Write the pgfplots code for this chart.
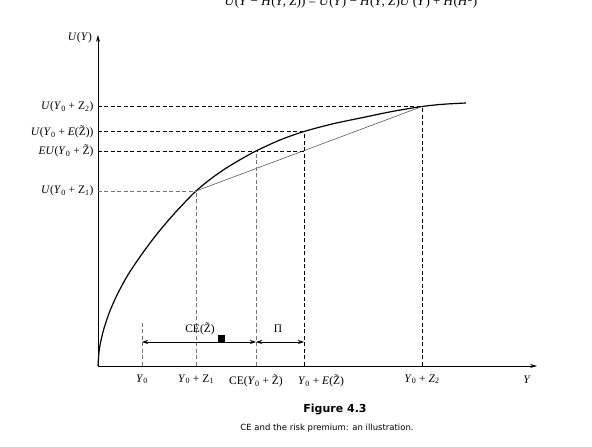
\documentclass[border=0pt]{standalone}
\usepackage{fontspec}
\setmainfont{Liberation Serif}
\newfontfamily\capfont{DejaVu Sans}
\usepackage{pgfplots}
\pgfplotsset{compat=1.18}
\usetikzlibrary{arrows.meta}
\newcommand{\Yo}{\textit{Y}\textsubscript{0}}
\newcommand{\Zt}{\~{Z}}
\newcommand{\lf}{\fontsize{11.5}{13}\selectfont}
\begin{document}
\begin{tikzpicture}[x=1pt,y=1pt]
\useasboundingbox (-98,-81) rectangle (494,366);
\begin{axis}[
  x=1pt, y=1pt,
  at={(0,0)}, anchor=south west,
  xmin=0, xmax=439, ymin=0, ymax=331,
  axis x line=bottom, axis y line=left,
  axis line style={line width=0.8pt, -{Stealth[length=7pt,width=4pt]}},
  xtick={44,98,158,324},
  xticklabels={{\Yo},{\Yo{} + Z\textsubscript{1}},{CE(\Yo{} + \Zt)},{\Yo{} + \textit{Z}\textsubscript{2}}},
  extra x ticks={206},
  extra x tick labels={{\Yo{} + \textit{E}(\Zt)}},
  extra x tick style={xticklabel style={xshift=17pt}},
  ytick={175,215,234.5,259.5},
  yticklabels={{\textit{U}(\Yo{} + Z\textsubscript{1})},{\textit{EU}(\Yo{} + \Zt)},{\textit{U}(\Yo{} + \textit{E}(\Zt))},{\textit{U}(\Yo{} + Z\textsubscript{2})}},
  major tick length=0pt,
  ticklabel style={font=\lf},
  xticklabel style={yshift=-5pt},
  yticklabel style={xshift=-1pt},
  clip=false,
]
% curve
\addplot[smooth, line width=1.2pt, black] coordinates {
 (0,0) (1,14) (2.5,23.3) (6,37.6) (12,55.2) (20,73) (30,91.2) (42,109.2) (56,128.2) (70,145.3) (84,160.7) (98,175)
 (113,187.3) (128,197.8) (143,206.8) (158,215) (182,226) (206,234.5) (235,242.2) (264,248.3) (294,254.5) (324,259.5) (346,261.8) (368,263)};
% chord
\addplot[line width=0.5pt, black!75] coordinates {(98,175) (324,259.5)};
% horizontal dashed
\addplot[black, line width=0.7pt, dash pattern=on 4pt off 2.5pt] coordinates {(0,259.5) (324,259.5)};
\addplot[black, line width=0.7pt, dash pattern=on 4pt off 2.5pt] coordinates {(0,234.5) (206,234.5)};
\addplot[black, line width=0.7pt, dash pattern=on 4pt off 2.5pt] coordinates {(0,215) (206,215)};
\addplot[black!55, line width=0.7pt, dash pattern=on 4pt off 2.5pt] coordinates {(0,175) (98,175)};
% vertical dashed
\addplot[black!55, line width=0.7pt, dash pattern=on 4pt off 2.5pt] coordinates {(44,0) (44,45)};
\addplot[black!55, line width=0.7pt, dash pattern=on 4pt off 2.5pt] coordinates {(98,0) (98,175)};
\addplot[black!55, line width=0.7pt, dash pattern=on 4pt off 2.5pt] coordinates {(158,0) (158,215)};
\addplot[black, line width=0.7pt, dash pattern=on 4pt off 2.5pt] coordinates {(206,0) (206,234.5)};
\addplot[black, line width=0.7pt, dash pattern=on 4pt off 2.5pt] coordinates {(324,0) (324,259.5)};
% arrows
\addplot[line width=0.7pt, {Stealth[length=6pt,width=4pt]}-{Stealth[length=6pt,width=4pt]}] coordinates {(44,24) (158,24)};
\addplot[line width=0.7pt, {Stealth[length=6pt,width=4pt]}-{Stealth[length=6pt,width=4pt]}] coordinates {(158,24) (206,24)};
\addplot[only marks, mark=square*, mark size=3.2pt, black] coordinates {(123,28)};
\node[font=\lf] at (axis cs:102,37) {CE(\Zt)};
\node[font=\lf] at (axis cs:180,37) {Π};
\node[font=\lf] at (axis cs:-18,328) {\textit{U}(\textit{Y})};
\node[font=\lf] at (axis cs:429,-14) {\textit{Y}};
\end{axis}
\node[font=\fontsize{13}{15}\selectfont, anchor=base] at (253,360) {\textit{U}(\textit{Y} − \textit{H}(\textit{Y}, \textit{Z})) = \textit{U}(\textit{Y}) − \textit{H}(\textit{Y}, \textit{Z})\textit{U}′(\textit{Y}) + \textit{H}(\textit{H}\textsuperscript{2})};
\node[font=\capfont\bfseries\fontsize{11}{13}\selectfont] at (237,-44) {Figure 4.3};
\node[font=\capfont\fontsize{8.5}{10}\selectfont] at (229,-62) {CE and the risk premium: an illustration.};
\end{tikzpicture}
\end{document}
